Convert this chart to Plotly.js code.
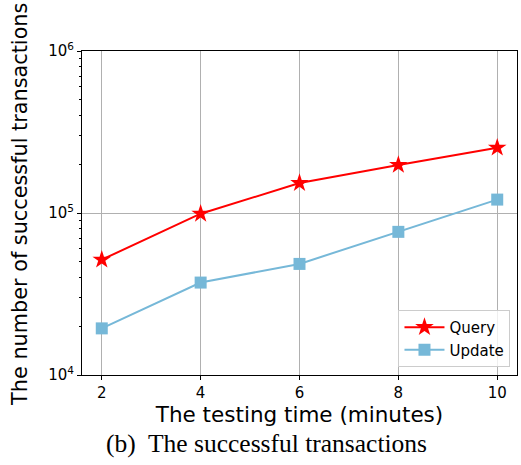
<!DOCTYPE html>
<html>
<head>
<meta charset="utf-8">
<script src="https://cdn.plot.ly/plotly-3.0.1.min.js"></script>
<style>html,body{margin:0;padding:0;background:#fff;}#chart{width:521px;height:465px;}</style>
</head>
<body>
<div id="chart"></div>
<script>
const testingTime = [2, 4, 6, 8, 10];
const queryValues = [51500, 99000, 153000, 198000, 253000];
const updateValues = [19400, 37200, 48500, 76500, 121000];
const yTickVals = [1e4, 1e5, 1e6];
const yTickText = ['10<sup>4</sup>', '10<sup>5</sup>', '10<sup>6</sup>'];
const yMinorVals = [2e4,3e4,4e4,5e4,6e4,7e4,8e4,9e4,2e5,3e5,4e5,5e5,6e5,7e5,8e5,9e5];

const traces = [
  {x: testingTime, y: queryValues, name: 'Query', mode: 'lines+markers',
   line: {color: '#ff0000', width: 2},
   marker: {symbol: 'star', size: 14, color: '#ff0000'}},
  {x: testingTime, y: updateValues, name: 'Update', mode: 'lines+markers',
   line: {color: '#76b8d8', width: 2},
   marker: {symbol: 'square', size: 12, color: '#76b8d8'}}
];

const layout = {
  width: 521, height: 465,
  margin: {l: 82, r: 4, t: 51, b: 90},
  paper_bgcolor: '#fff', plot_bgcolor: '#fff',
  font: {family: 'DejaVu Sans', color: '#000'},
  showlegend: true,
  legend: {x: 0.985, y: 0.025, xanchor: 'right', yanchor: 'bottom',
           bordercolor: '#cccccc', borderwidth: 1, bgcolor: 'rgba(255,255,255,0.8)',
           font: {size: 15, family: 'DejaVu Sans'}, itemwidth: 40, tracegroupgap: 2},
  xaxis: {range: [1.6, 10.4], tickvals: testingTime, ticktext: testingTime.map(String),
          showgrid: true, gridcolor: '#b0b0b0', gridwidth: 1,
          showline: true, linecolor: '#000', linewidth: 1, mirror: true,
          ticks: 'outside', ticklen: 4, tickcolor: '#000', zeroline: false,
          tickfont: {size: 15, family: 'DejaVu Sans'},
          title: {text: 'The testing time (minutes)', font: {size: 21.5, family: 'DejaVu Sans'}, standoff: 4}},
  yaxis: {type: 'log', range: [4, 6], tickvals: yTickVals, ticktext: yTickText,
          showgrid: true, gridcolor: '#b0b0b0', gridwidth: 1,
          showline: true, linecolor: '#000', linewidth: 1, mirror: true,
          ticks: 'outside', ticklen: 4, tickcolor: '#000', zeroline: false,
          tickfont: {size: 15, family: 'DejaVu Sans'},
          minor: {tickvals: yMinorVals, ticks: 'outside', ticklen: 2, tickcolor: '#000', showgrid: false}},
  annotations: [
    {text: 'The number of successful transactions', xref: 'paper', yref: 'paper',
     x: 0, y: 0.525, xshift: -62, xanchor: 'center', yanchor: 'middle', textangle: -90,
     showarrow: false, font: {family: 'DejaVu Sans', size: 20.8, color: '#000'}},
    {text: '(b)  The successful transactions', xref: 'paper', yref: 'paper',
     x: 0.425, y: -0.21, xanchor: 'center', yanchor: 'middle', showarrow: false,
     font: {family: 'Liberation Serif', size: 25.5, color: '#000'}}
  ]
};

Plotly.newPlot('chart', traces, layout, {displayModeBar: false, staticPlot: true});
</script>
</body>
</html>
